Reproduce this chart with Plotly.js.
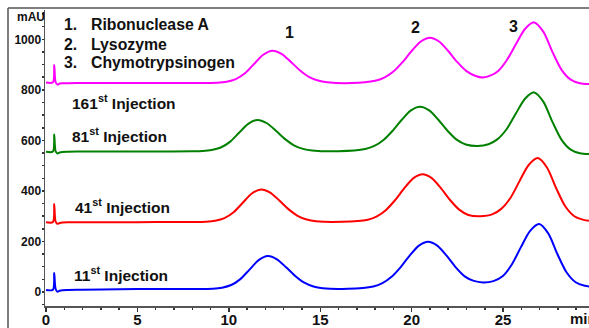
<!DOCTYPE html>
<html>
<head>
<meta charset="utf-8">
<script src="https://cdn.plot.ly/plotly-3.0.1.min.js"></script>
<style>html,body{margin:0;padding:0;background:#fff;}#chart{width:589px;height:328px;}</style>
</head>
<body>
<div id="chart"></div>
<script>
// Retention time (min) and absorbance (mAU)
const blueX = [0,0.38,0.45,0.52,0.62,0.75,0.9,1.2,2,4,6,8,
  9.13,9.63,10.13,10.63,11.13,11.63,12.13,12.63,13.13,13.63,14.13,14.63,15.13,
  16.5,
  17.9,18.4,18.9,19.4,19.9,20.4,20.9,21.4,21.9,22.4,22.9,23.4,
  23.9,
  24.47,24.97,25.47,25.97,26.47,26.97,27.47,27.97,28.47,28.97,29.47,29.7];
const blueY = [8,9,75,14,1,5,7,8,9,11,12,12,
  13.3,17.2,27.6,51,88.7,125.9,142,129.3,97.9,63.4,36.8,21.9,15.1,
  13,
  22.1,35.1,60.1,98.7,144.6,183.6,199,183.6,144.6,98.7,62,44,
  38,
  43,62,108,176.6,241.3,269,231.9,150.5,78.3,38.8,24.4,22];

const redX = [0,0.38,0.45,0.52,0.62,0.75,0.9,1.2,2,4,6,8,
  8.76,9.26,9.76,10.26,10.76,11.26,11.76,12.26,12.76,13.26,13.76,14.26,14.76,
  16.2,
  17.6,18.1,18.6,19.1,19.6,20.1,20.6,21.1,21.6,22.1,22.6,23.1,
  23.75,
  24.4,24.9,25.4,25.9,26.4,26.9,27.4,27.9,28.4,28.9,29.4,29.7];
const redY = [276,277,348,280,270,273,275,276,276,276,277,277,
  278.3,282.2,292.5,315.7,353.1,390,406,393.4,362.3,328,301.6,286.8,280.1,
  278,
  286.3,299.4,324.8,364.1,410.7,450.4,466,450.4,410.7,364.1,326,305,
  300,
  307,329,372,438.8,502.6,530,492.9,411.5,339.3,299.8,285.4,282];

const greenX = [0,0.38,0.45,0.52,0.62,0.75,0.9,1.2,2,4,6,8,
  8.56,9.06,9.56,10.06,10.56,11.06,11.56,12.06,12.56,13.06,13.56,14.06,14.56,
  16.0,
  17.46,17.96,18.46,18.96,19.46,19.96,20.46,20.96,21.46,21.96,22.46,22.96,
  23.6,
  24.2,24.7,25.2,25.7,26.2,26.7,27.2,27.7,28.2,28.7,29.2,29.7];
const greenY = [555,556,623,558,548,552,554,555,556,556,556,557,
  558.2,562,571.9,594.2,630.2,665.6,681,668.8,639,606,580.7,566.4,560,
  557,
  565.7,578,601.6,638.2,681.6,718.5,733,718.5,681.6,638.2,603,584,
  578,
  585,605,645,706.3,764.9,790,753.5,673.4,602.3,563.5,549.3,546];

const magentaX = [0,0.38,0.45,0.52,0.62,0.75,0.9,1.2,2,4,6,8,
  9.38,9.88,10.38,10.88,11.38,11.88,12.38,12.88,13.38,13.88,14.38,14.88,15.38,
  16.7,
  18.0,18.5,19.0,19.5,20.0,20.5,21.0,21.5,22.0,22.5,23.0,23.5,
  23.9,
  24.3,24.75,25.2,25.7,26.2,26.7,27.2,27.7,28.2,28.7,29.2,29.7];
const magentaY = [829,830,898,832,821,825,826,826,827,827,827,827,
  828.3,832.1,842.4,865.4,902.5,939.1,955,942.5,911.6,877.6,851.4,836.7,830.1,
  827,
  835.8,848.3,872.3,909.5,953.7,991.2,1006,991.2,953.7,909.5,874,855,
  849,
  856,876,917,980.5,1041,1067,1030.5,950.4,879.3,840.5,826.3,823];

const xTickVals = [0,5,10,15,20,25];
const yTickVals = [0,200,400,600,800,1000];
const injectionLabels = ["161<sup>st</sup> Injection","81<sup>st</sup> Injection","41<sup>st</sup> Injection","11<sup>st</sup> Injection"];
const proteinNums = ["1.","2.","3."];
const proteinNames = ["Ribonuclease A","Lysozyme","Chymotrypsinogen"];
const peakLabels = ["1","2","3"];

const FONT = "Arial, 'Liberation Sans', sans-serif";
function tr(x,y,c){return {x:x,y:y,type:'scatter',mode:'lines',line:{color:c,width:2,shape:'spline',smoothing:0.8},hoverinfo:'skip',showlegend:false};}
const data = [tr(blueX,blueY,'#0000FF'),tr(redX,redY,'#FF0000'),tr(greenX,greenY,'#008000'),tr(magentaX,magentaY,'#FF00FF')];

// pixel -> paper helpers (layout only)
const L=45,R=0,T=10,B=22,W=589,H=328;
const pw=W-L-R, ph=H-T-B;
const px=v=>(v-L)/pw, py=v=>(H-B-v)/ph;
const b=s=>'<b>'+s+'</b>';
function ann(text,x,y,size,xa){return {text:b(text),xref:'paper',yref:'paper',x:px(x),y:py(y),xanchor:xa||'left',yanchor:'middle',showarrow:false,font:{family:FONT,size:size,color:'#111'}};}
const annotations = [ann('mAU',31,17.5,12,'center')];
const legY=[25,44,62.5];
proteinNums.forEach((t,i)=>annotations.push(ann(t,62,legY[i],15.8)));
proteinNames.forEach((t,i)=>annotations.push(ann(t,89,legY[i],15.8)));
const injPos=[[70,101.5],[70,135],[72.5,206],[71.5,274]];
injectionLabels.forEach((t,i)=>annotations.push(ann(t,injPos[i][0],injPos[i][1],15.5)));
const pkPos=[[289,32.5],[415,27.5],[513,26.5]];
peakLabels.forEach((t,i)=>annotations.push(ann(t,pkPos[i][0],pkPos[i][1],16,'center')));
annotations.push(ann('min',568,318,15));

const layout = {
  width:W,height:H,margin:{l:L,r:R,t:T,b:B},
  paper_bgcolor:'#fff',plot_bgcolor:'#fff',
  font:{family:FONT,color:'#111'},
  xaxis:{range:[-0.055,29.7],tickvals:xTickVals,ticktext:xTickVals.map(v=>b(v)),showgrid:false,zeroline:false,
    showline:true,linecolor:'#555',linewidth:1.5,ticks:'outside',ticklen:4,tickwidth:1.5,tickcolor:'#333',
    ticklabelstandoff:-5,
    tickfont:{family:FONT,size:15,color:'#111'},
    minor:{dtick:1,tick0:0,ticks:'outside',ticklen:2,tickwidth:1.5,tickcolor:'#333',showgrid:false}},
  yaxis:{range:[-55.4,1116],tickvals:yTickVals,ticktext:yTickVals.map(v=>b(v)),showgrid:false,zeroline:false,
    showline:true,linecolor:'#555',linewidth:1.5,ticks:'outside',ticklen:2,tickwidth:1.5,tickcolor:'#333',
    ticklabelstandoff:-2,
    tickfont:{family:FONT,size:12,color:'#111'},
    minor:{dtick:50,tick0:0,ticks:'outside',ticklen:2,tickwidth:1.5,tickcolor:'#333',showgrid:false}},
  annotations:annotations,
  shapes:[
    {type:'line',xref:'paper',yref:'paper',x0:px(8),x1:px(8),y0:py(8),y1:py(330),line:{color:'#555',width:1.5}},
    {type:'line',xref:'paper',yref:'paper',x0:px(8),x1:px(590),y0:py(8),y1:py(8),line:{color:'#555',width:1.5}}
  ]
};
Plotly.newPlot('chart',data,layout,{staticPlot:true,displayModeBar:false});
</script>
</body>
</html>
